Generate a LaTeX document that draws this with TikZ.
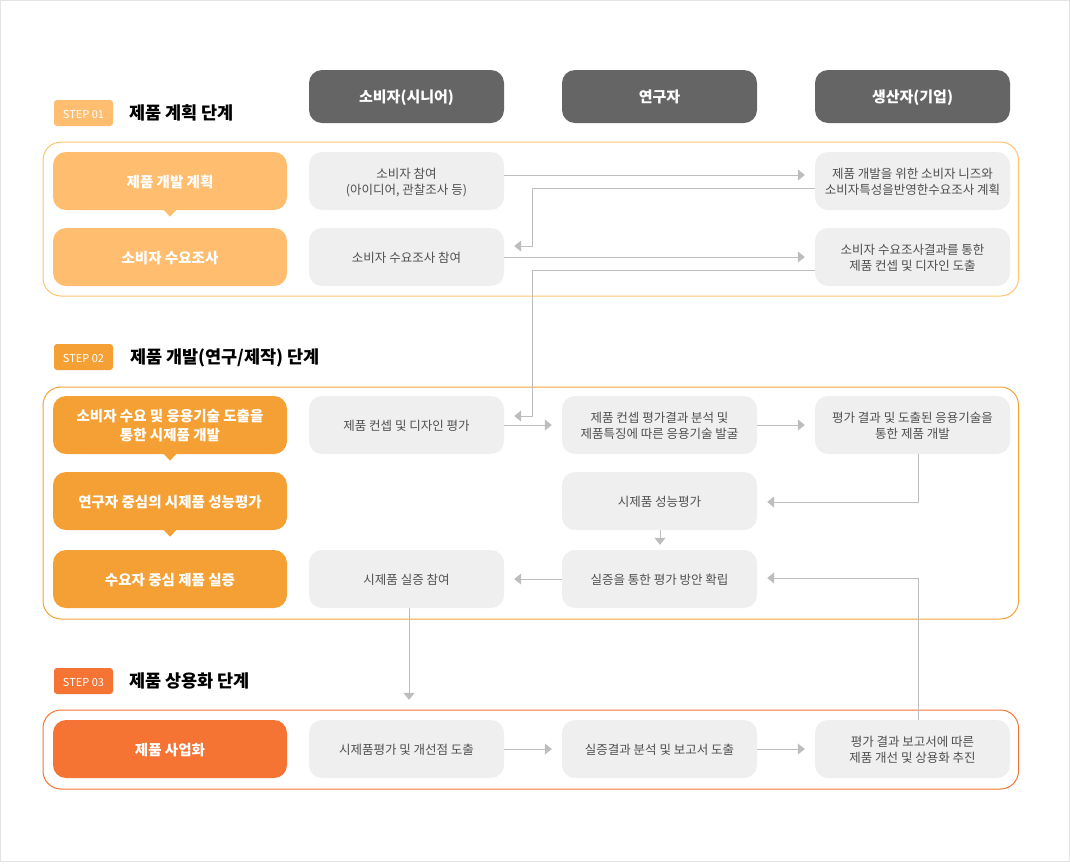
\documentclass[tikz,border=0pt]{standalone}
\usepackage{fontspec}
\setmainfont{Noto Sans CJK KR}
\usetikzlibrary{arrows.meta,calc}
\definecolor{hdr}{HTML}{656565}
\definecolor{oA}{HTML}{FFBE6F}
\definecolor{oAline}{HTML}{FFC36E}
\definecolor{oB}{HTML}{F5A035}
\definecolor{oC}{HTML}{F57434}
\definecolor{gbox}{HTML}{EFEFEF}
\definecolor{gtext}{HTML}{505050}
\definecolor{conncol}{HTML}{BDBDBD}
\definecolor{framecol}{HTML}{E3E3E3}
% text block lowered a little inside its node (the reference sets text slightly low)
\newcommand\lowtxt[1]{\raisebox{0pt}[\dimexpr\height+5pt\relax][\depth]{\begin{tabular}{@{}c@{}}#1\end{tabular}}}
\begin{document}
\begin{tikzpicture}[x=1pt,y=-1pt,
  hdrbox/.style={fill=hdr, rounded corners=13pt, minimum width=195pt, minimum height=53pt, text=white, font=\fontsize{15}{18}\selectfont\bfseries, inner sep=0pt},
  leftbox/.style={rounded corners=13pt, minimum width=234pt, minimum height=58pt, text=white, font=\fontsize{14.5}{19}\selectfont\bfseries, inner sep=0pt},
  graybox/.style={fill=gbox, rounded corners=13pt, minimum width=195pt, minimum height=58pt, text=gtext, font=\fontsize{12.5}{15.5}\selectfont, inner sep=0pt},
  badge/.style={rounded corners=3pt, minimum width=59pt, minimum height=26pt, text=white, font=\fontsize{11}{13}\selectfont, inner sep=0pt},
  titletext/.style={anchor=west, font=\fontsize{17.5}{20}\selectfont\bfseries, text=black, inner sep=0pt},
  stage/.style={rounded corners=18pt, line width=1pt},
  connector/.style={draw=conncol, line width=1pt, -{Triangle[length=7pt,width=11pt]}},
]
\useasboundingbox (0,0) rectangle (1070,863);
\draw[framecol, line width=1pt] (0.5,0.5) rectangle (1069.5,861.5);

% headers
\node[hdrbox] (h1) at (406.5,96.5) {\lowtxt{소비자(시니어)}};
\node[hdrbox] (h2) at (659.5,96.5) {\lowtxt{연구자}};
\node[hdrbox] (h3) at (912.5,96.5) {\lowtxt{생산자(기업)}};

% ---------- STEP 01
\node[badge, fill=oA] (s1) at (83.5,113) {\lowtxt{STEP 01}};
\node[titletext] (t1) at (129,113) {\lowtxt{제품 계획 단계}};
\draw[stage, draw=oAline] (43,142) rectangle (1018.5,296);

\node[leftbox, fill=oA] (p1) at (170,181) {\lowtxt{제품 개발 계획}};
\node[leftbox, fill=oA] (p2) at (170,257) {\lowtxt{소비자 수요조사}};
\fill[oA] ([xshift=-6.5pt,yshift=0.5pt]p1.south) -- ([xshift=6.5pt,yshift=0.5pt]p1.south) -- ([yshift=-6.5pt]p1.south) -- cycle;

\node[graybox] (a1) at (406.5,181) {\lowtxt{소비자 참여\\(아이디어, 관찰조사 등)}};
\node[graybox] (a2) at (406.5,257) {\lowtxt{소비자 수요조사 참여}};
\node[graybox] (c1) at (912.5,181) {\lowtxt{제품 개발을 위한 소비자 니즈와\\소비자특성을반영한수요조사 계획}};
\node[graybox] (c2) at (912.5,257) {\lowtxt{소비자 수요조사결과를 통한\\제품 컨셉 및 디자인 도출}};

% ---------- STEP 02
\node[badge, fill=oB] (s2) at (83.5,357) {\lowtxt{STEP 02}};
\node[titletext] (t2) at (130,357) {\lowtxt{제품 개발(연구/제작) 단계}};
\draw[stage, draw=oB] (43,387) rectangle (1018.5,619);

\node[leftbox, fill=oB] (q1) at (170,425) {\lowtxt{소비자 수요 및 응용기술 도출을\\통한 시제품 개발}};
\node[leftbox, fill=oB] (q2) at (170,501) {\lowtxt{연구자 중심의 시제품 성능평가}};
\node[leftbox, fill=oB] (q3) at (170,579) {\lowtxt{수요자 중심 제품 실증}};
\fill[oB] ([xshift=-6.5pt,yshift=0.5pt]q1.south) -- ([xshift=6.5pt,yshift=0.5pt]q1.south) -- ([yshift=-6.5pt]q1.south) -- cycle;
\fill[oB] ([xshift=-6.5pt,yshift=0.5pt]q2.south) -- ([xshift=6.5pt,yshift=0.5pt]q2.south) -- ([yshift=-6.5pt]q2.south) -- cycle;

\node[graybox] (a3) at (406.5,425) {\lowtxt{제품 컨셉 및 디자인 평가}};
\node[graybox] (b3) at (659.5,425) {\lowtxt{제품 컨셉 평가결과 분석 및\\제품특징에 따른 응용기술 발굴}};
\node[graybox] (c3) at (912.5,425) {\lowtxt{평가 결과 및 도출된 응용기술을\\통한 제품 개발}};
\node[graybox] (b4) at (659.5,501) {\lowtxt{시제품 성능평가}};
\node[graybox] (b5) at (659.5,579) {\lowtxt{실증을 통한 평가 방안 확립}};
\node[graybox] (a5) at (406.5,579) {\lowtxt{시제품 실증 참여}};

% ---------- STEP 03
\node[badge, fill=oC] (s3) at (83.5,681) {\lowtxt{STEP 03}};
\node[titletext] (t3) at (129,681) {\lowtxt{제품 상용화 단계}};
\draw[stage, draw=oC] (43,710) rectangle (1018.5,789);

\node[leftbox, fill=oC] (r1) at (170,749) {\lowtxt{제품 사업화}};
\node[graybox] (a6) at (406.5,749) {\lowtxt{시제품평가 및 개선점 도출}};
\node[graybox] (b6) at (659.5,749) {\lowtxt{실증결과 분석 및 보고서 도출}};
\node[graybox] (c6) at (912.5,749) {\lowtxt{평가 결과 보고서에 따른\\제품 개선 및 상용화 추진}};

% ---------- connectors
\draw[connector] ([yshift=6pt]a1.east) -- ([yshift=6pt,xshift=-10pt]c1.west);
\draw[connector] ([yshift=-7pt]c1.west) -- ++(-282,0) |- ([xshift=10pt,yshift=11pt]a2.east);
\draw[connector] (a2.east) -- ([xshift=-10pt]c2.west);
\draw[connector] ([yshift=-13pt]c2.west) -- ++(-282,0) |- ([xshift=10pt,yshift=9pt]a3.east);
\draw[connector] (a3.east) -- ([xshift=-10pt]b3.west);
\draw[connector] (b3.east) -- ([xshift=-10pt]c3.west);
\draw[connector] ([xshift=5.5pt]c3.south) |- ([xshift=10pt,yshift=-1pt]b4.east);
\draw[connector] ([xshift=0.5pt]b4.south) -- ([xshift=0.5pt,yshift=5pt]b5.north);
\draw[connector] (b5.west) -- ([xshift=10pt]a5.east);
\draw[connector] ([xshift=2.5pt]a5.south) -- ([xshift=2.5pt,yshift=20pt]a6.north);
\draw[connector] (a6.east) -- ([xshift=-10pt]b6.west);
\draw[connector] (b6.east) -- ([xshift=-10pt]c6.west);
\draw[connector] ([xshift=5.5pt]c6.north) |- ([xshift=10pt,yshift=1pt]b5.east);
\end{tikzpicture}
\end{document}
